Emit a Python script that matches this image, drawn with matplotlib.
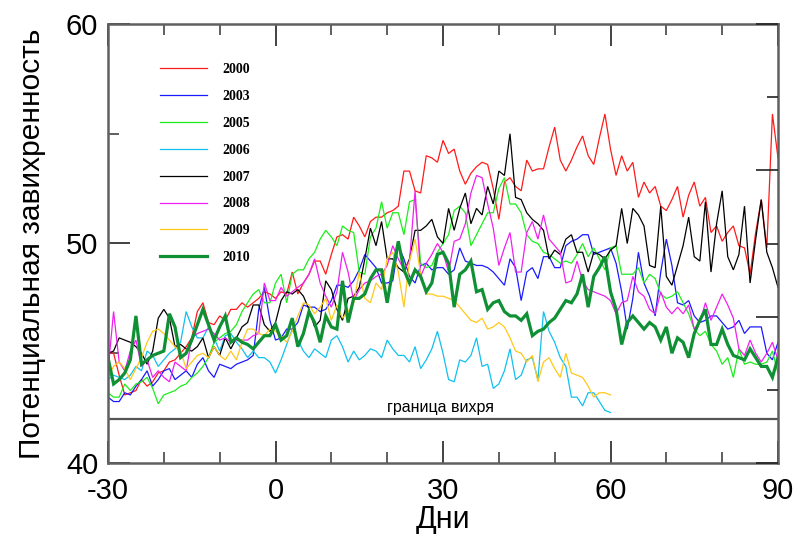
import numpy as np
import matplotlib
matplotlib.use("Agg")
import matplotlib.pyplot as plt
from matplotlib.ticker import MultipleLocator, FixedLocator

plt.rcParams["axes.unicode_minus"] = False

days = np.arange(-30, 91)
days_short = np.arange(-30, 61)

pv_2000 = [45.0, 45.0, 44.0, 43.1, 43.2, 43.3, 43.8, 43.5, 43.7, 44.1,
           44.2, 44.6, 44.7, 45.0, 45.3, 45.7, 46.9, 47.3, 46.4, 46.3,
           46.7, 46.5, 47.0, 47.0, 47.3, 47.1, 47.3, 47.5, 47.8, 47.7,
           47.5, 47.8, 47.7, 48.7, 47.7, 48.2, 48.6, 49.2, 49.2, 48.6,
           49.5, 50.3, 50.4, 50.2, 51.2, 50.8, 50.3, 51.0, 51.2, 51.2,
           51.4, 51.5, 51.7, 53.3, 53.3, 52.4, 52.3, 54.0, 53.9, 53.7,
           54.7, 54.1, 54.3, 53.3, 52.7, 53.2, 53.5, 53.7, 53.6, 52.5,
           51.1, 52.8, 53.0, 52.6, 52.4, 53.8, 53.3, 53.4, 53.4, 54.4,
           55.3, 53.8, 53.3, 53.8, 54.4, 54.9, 54.0, 53.6, 54.8, 55.9,
           54.3, 53.1, 54.0, 53.3, 53.7, 52.1, 52.8, 52.3, 52.6, 51.7,
           51.5, 52.0, 52.6, 51.2, 52.2, 52.8, 51.7, 52.1, 50.5, 50.8,
           50.1, 50.5, 50.8, 49.9, 49.8, 48.6, 50.5, 52.0, 49.8, 55.9,
           53.9]

pv_2003 = [43.0, 42.8, 42.8, 43.2, 43.1, 43.5, 43.8, 44.2, 43.5, 43.8,
           44.2, 44.3, 43.8, 44.0, 44.2, 43.9, 44.5, 44.8, 44.2, 43.9,
           44.5, 44.4, 44.3, 44.5, 44.6, 44.7, 44.9, 47.0, 48.0, 46.5,
           45.6, 45.7, 46.1, 46.1, 46.4, 47.2, 47.1, 47.1, 46.9, 47.0,
           47.4, 48.1, 48.1, 48.0, 48.3, 48.8, 49.5, 49.2, 48.9, 48.2,
           48.2, 48.3, 49.9, 49.3, 48.5, 48.2, 49.0, 49.1, 48.8, 48.9,
           48.9, 48.6, 48.8, 49.8, 49.2, 49.1, 49.0, 49.0, 48.9, 48.7,
           48.4, 48.1, 49.3, 48.9, 47.4, 48.7, 48.9, 48.4, 49.4, 49.4,
           48.9, 48.9, 49.9, 50.1, 50.2, 50.4, 50.4, 49.5, 49.6, 49.7,
           49.8, 49.1, 47.8, 46.1, 47.5, 49.6, 48.2, 47.6, 46.7, 48.7,
           50.2, 49.0, 47.3, 47.2, 47.4, 46.7, 46.4, 46.5, 46.7, 46.7,
           46.4, 46.1, 46.2, 46.5, 45.9, 46.2, 46.2, 46.2, 45.0, 44.7,
           45.5]

pv_2005 = [43.2, 43.0, 43.0, 43.6, 43.3, 43.6, 43.7, 43.9, 43.4, 42.7,
           43.1, 43.2, 43.3, 43.5, 43.6, 43.9, 44.1, 44.4, 44.8, 45.5,
           45.7, 45.9, 46.0, 46.3, 46.9, 47.3, 47.7, 47.9, 47.3, 47.3,
           48.2, 48.6, 47.3, 48.6, 48.8, 48.8, 49.3, 49.6, 50.2, 50.6,
           50.3, 49.9, 50.8, 50.6, 50.5, 48.7, 48.6, 50.3, 50.7, 51.9,
           50.7, 51.4, 51.4, 50.4, 51.9, 52.0, 49.1, 48.9, 49.0, 49.6,
           50.0, 50.4, 51.5, 51.7, 51.4, 49.9, 50.4, 50.9, 51.4, 51.4,
           52.5, 53.0, 51.8, 51.8, 51.4, 50.4, 50.1, 50.0, 49.6, 49.5,
           49.3, 49.1, 49.2, 49.1, 49.5, 50.0, 49.4, 49.8, 49.3, 48.8,
           49.8, 49.9, 48.6, 48.6, 48.6, 48.9, 48.2, 48.6, 48.4, 47.7,
           47.5, 47.6, 47.8, 47.3, 46.8, 46.1, 45.8, 46.0, 45.4, 45.1,
           44.5, 44.8, 43.9, 45.2, 44.5, 44.6, 44.5, 44.5, 44.6, 45.1,
           44.1]

pv_2006 = [43.8, 44.0, 43.9, 43.8, 44.0, 44.4, 44.2, 45.1, 44.9, 44.4,
           44.7, 45.0, 45.2, 45.5, 46.9, 46.2, 45.7, 45.7, 46.2, 45.7,
           45.1, 45.8, 45.9, 45.5, 45.2, 44.8, 45.1, 44.8, 44.8, 44.6,
           44.1, 44.7, 45.4, 46.1, 45.6, 45.1, 44.8, 45.2, 45.0, 44.8,
           45.6, 45.8, 45.3, 44.6, 45.1, 44.7, 44.9, 45.2, 45.1, 44.8,
           45.6, 45.2, 44.9, 44.9, 44.6, 45.3, 44.3, 44.7, 45.2, 46.0,
           45.0, 43.8, 43.7, 44.7, 44.6, 44.9, 45.7, 44.4, 44.5, 43.4,
           43.6, 44.2, 45.2, 43.8, 44.0, 44.7, 44.8, 43.8, 46.9, 46.0,
           45.5, 44.8, 44.4, 43.0, 43.0, 42.6, 43.2, 43.2, 42.8, 42.4,
           42.3]

pv_2007 = [45.0, 45.1, 45.7, 45.6, 45.5, 45.3, 45.0, 44.5, 45.1, 46.6,
           47.0, 46.6, 45.3, 45.4, 45.2, 45.1, 45.3, 45.7, 44.8, 45.3,
           44.9, 45.7, 45.2, 45.7, 46.2, 46.4, 47.2, 47.2, 46.3, 46.0,
           46.4, 47.4, 47.8, 47.7, 47.9, 47.6, 47.0, 46.2, 46.5, 48.3,
           47.9, 47.0, 46.5, 47.5, 47.6, 48.0, 49.3, 50.7, 49.9, 51.0,
           49.3, 49.3, 48.9, 48.7, 49.3, 50.6, 50.6, 50.8, 51.1, 50.3,
           50.0, 51.6, 50.6, 51.6, 52.3, 50.9, 51.6, 51.3, 52.6, 51.8,
           53.3, 53.1, 55.0, 52.1, 52.0, 51.4, 51.1, 50.9, 50.6, 49.3,
           49.7, 49.5, 50.2, 50.4, 49.6, 49.6, 48.7, 49.6, 49.5, 49.3,
           49.7, 49.9, 51.6, 50.0, 51.6, 51.3, 50.8, 49.0, 48.9, 51.7,
           48.5, 48.1, 49.0, 49.9, 51.2, 49.4, 49.2, 51.9, 48.7, 50.9,
           52.4, 49.4, 48.8, 49.5, 51.7, 48.2, 50.2, 52.0, 49.6, 48.9,
           48.0]

pv_2008 = [44.2, 46.9, 44.6, 44.2, 45.1, 45.6, 44.4, 44.7, 43.9, 44.2,
           43.9, 43.7, 44.6, 44.4, 44.2, 45.7, 45.9, 46.0, 46.1, 45.9,
           45.6, 45.7, 45.5, 45.6, 45.6, 45.6, 45.8, 45.9, 48.2, 47.4,
           47.4, 48.0, 47.6, 47.8, 48.0, 48.2, 48.6, 49.3, 48.2, 47.6,
           47.1, 47.8, 49.6, 48.7, 47.4, 47.9, 48.2, 48.3, 48.5, 48.6,
           49.0, 49.9, 49.3, 48.8, 49.2, 52.4, 48.5, 49.1, 49.5, 50.0,
           49.6, 48.7, 50.1, 50.2, 50.9, 52.3, 53.1, 53.0, 51.8, 50.7,
           49.0, 49.8, 50.5, 48.7, 48.7, 50.5, 51.0, 50.2, 51.3, 50.2,
           49.9, 49.6, 48.2, 48.3, 49.2, 48.3, 47.9, 47.8, 47.7, 47.6,
           47.4, 46.8, 47.3, 47.4, 48.5, 47.8, 47.6, 47.0, 46.8, 47.8,
           47.1, 46.8, 47.1, 46.8, 47.2, 46.1, 46.4, 47.3, 46.5, 47.1,
           47.7, 47.2, 46.6, 45.2, 44.9, 45.6, 45.0, 44.6, 45.0, 45.5,
           44.7]

pv_2009 = [43.9, 44.4, 44.6, 44.3, 43.8, 44.3, 44.8, 45.5, 46.0, 46.1,
           45.9, 45.6, 45.3, 45.1, 44.3, 44.6, 44.9, 45.0, 44.8, 45.3,
           44.9, 44.7, 45.1, 44.7, 45.5, 46.1, 46.1, 45.9, 45.8, 46.1,
           46.0, 45.8, 45.5, 46.0, 46.7, 47.3, 47.2, 46.8, 47.1, 47.5,
           46.5, 47.2, 46.6, 46.9, 47.3, 48.7, 47.5, 47.3, 48.2, 47.9,
           49.3, 49.6, 48.7, 47.1, 49.2, 50.2, 48.6, 47.7, 47.7, 47.6,
           47.6, 47.5, 47.4, 47.1, 46.8, 46.5, 46.4, 46.6, 46.1, 46.2,
           46.4, 46.2, 45.7, 45.1, 45.0, 44.6, 44.9, 43.7, 44.6, 44.8,
           44.3, 43.9, 45.0, 44.1, 44.0, 43.9, 43.5, 43.0, 43.2, 43.2,
           43.1]

pv_2010 = [44.8, 43.6, 43.8, 44.1, 44.7, 46.7, 44.5, 44.7, 44.9, 45.0,
           45.1, 46.8, 46.2, 44.8, 45.0, 45.6, 46.3, 47.0, 46.3, 45.6,
           46.2, 46.7, 45.5, 45.7, 45.5, 45.4, 45.2, 45.5, 45.8, 45.8,
           46.3, 45.6, 45.8, 46.6, 45.3, 45.9, 46.9, 46.4, 45.5, 46.7,
           46.2, 46.1, 48.3, 46.4, 47.5, 47.5, 47.7, 48.4, 48.8, 48.8,
           47.3, 48.8, 50.1, 48.8, 48.2, 48.8, 48.5, 47.8, 48.2, 49.5,
           49.6, 49.1, 47.1, 48.6, 48.8, 49.2, 47.8, 47.9, 47.0, 47.3,
           47.4, 46.9, 46.7, 46.7, 46.5, 46.8, 45.8, 46.0, 46.1, 46.4,
           46.6, 47.0, 47.4, 47.3, 47.7, 48.6, 47.1, 48.5, 48.9, 49.4,
           47.8, 47.0, 45.4, 46.4, 46.7, 46.4, 46.1, 46.4, 46.2, 45.6,
           46.2, 45.0, 45.7, 45.5, 44.8, 45.9, 46.5, 47.0, 45.4, 45.4,
           46.1, 45.4, 44.9, 44.8, 44.7, 45.2, 44.8, 44.4, 44.4, 43.9,
           44.8]

vortex_edge = 42.0
edge_label = "граница вихря"

series = [
    ("2000", days, pv_2000, "#ff1a1a", 0.9),
    ("2003", days, pv_2003, "#1a1aff", 0.9),
    ("2005", days, pv_2005, "#1aee1a", 0.9),
    ("2006", days_short, pv_2006, "#10c0f0", 0.9),
    ("2007", days, pv_2007, "#000000", 0.9),
    ("2008", days, pv_2008, "#f020f0", 0.9),
    ("2009", days_short, pv_2009, "#ffc81a", 0.9),
    ("2010", days, pv_2010, "#109035", 2.3),
]

fig = plt.figure(figsize=(7.94, 5.34), dpi=100)
ax = fig.add_axes([108 / 794, 1 - 463 / 534, 670 / 794, 439 / 534])

for label, x, y, color, lw in series:
    ax.plot(x, y, color=color, lw=lw, label=label, solid_joinstyle="miter")

ax.axhline(vortex_edge, color="#555555", lw=1.6)
ax.text(29.5, vortex_edge + 0.17, edge_label, ha="center", va="bottom",
        fontsize=11.5, family="Liberation Sans")

ax.set_xlim(-30, 90)
ax.set_ylim(40, 60)

spine_color = "#606060"
for s in ax.spines.values():
    s.set_color(spine_color)
    s.set_linewidth(1.8)

ax.xaxis.set_major_locator(MultipleLocator(30))
ax.xaxis.set_minor_locator(MultipleLocator(10))
ax.yaxis.set_major_locator(MultipleLocator(10))
ax.yaxis.set_minor_locator(MultipleLocator(5))
ax.tick_params(axis="both", which="major", direction="in", length=16,
               width=1.2, color="#222222", labelsize=21, top=True)
ax.tick_params(axis="both", which="minor", direction="in", length=8,
               width=1.2, color="#444444", top=True)
ax.tick_params(axis="x", which="major", pad=10)
ax.tick_params(axis="y", which="major", pad=7)
for lbl in ax.get_xticklabels() + ax.get_yticklabels():
    lbl.set_family("Liberation Sans")

# right-hand axis with its own six-part tick division
rax = ax.twinx()
rax.set_ylim(0, 6)
rax.yaxis.set_major_locator(FixedLocator([0, 2, 4, 6]))
rax.yaxis.set_minor_locator(FixedLocator([1, 3, 5]))
rax.tick_params(axis="y", which="major", direction="in", length=16,
                width=1.2, color="#222222", labelright=False)
rax.tick_params(axis="y", which="minor", direction="in", length=8,
                width=1.2, color="#222222")
for s in rax.spines.values():
    s.set_visible(False)

ax.set_xlabel("Дни", fontsize=22, family="Liberation Sans", labelpad=0)
ax.set_ylabel("Потенциальная завихренность", fontsize=21.5,
              family="Liberation Sans", labelpad=14)

leg = ax.legend(loc="upper left", bbox_to_anchor=(52 / 670, (463 - 63) / 439),
                frameon=False, borderpad=0, borderaxespad=0,
                handlelength=3.4, handletextpad=1.1, labelspacing=1.0,
                prop={"family": "Liberation Serif", "weight": "bold", "size": 10})

fig.savefig("out.png", dpi=100)
